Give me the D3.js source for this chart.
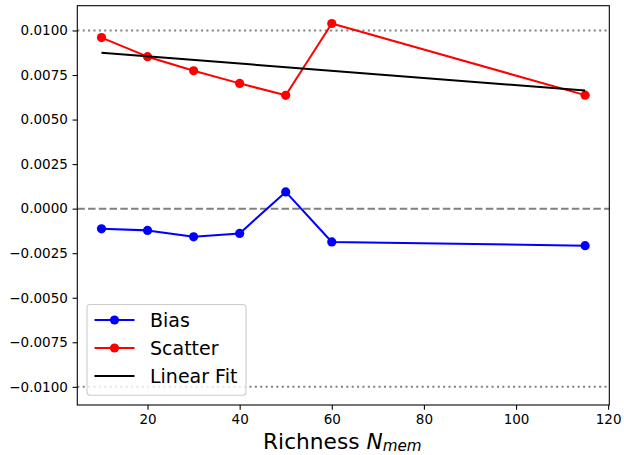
<!DOCTYPE html>
<html>
<head>
<meta charset="utf-8">
<script src="https://cdn.jsdelivr.net/npm/d3@7"></script>
<style>
  html, body { margin: 0; padding: 0; background: #fff; }
  svg { display: block; font-family: "DejaVu Sans", sans-serif; }
</style>
</head>
<body>
<svg id="chart" width="624" height="455"></svg>
<script>
// Richness bins and measured bias / scatter per bin
const richness = [10, 20, 30, 40, 50, 60, 115];
const bias = [-0.00113, -0.00122, -0.00158, -0.00139, 0.00094, -0.00187, -0.00208];
const scatter = [0.00960, 0.00853, 0.00774, 0.00703, 0.00636, 0.01039, 0.00637];
// Straight-line fit to the scatter (end points)
const fitX = [10, 115];
const fitY = [0.00875, 0.00663];
// Reference levels
const zeroLevel = 0;
const limitLevels = [0.01, -0.01];
// Axis ticks
const xTicks = [20, 40, 60, 80, 100, 120];
const yTicks = [0.01, 0.0075, 0.005, 0.0025, 0, -0.0025, -0.005, -0.0075, -0.01];

const svg = d3.select("#chart");
const plot = { left: 77.3, right: 609.3, top: 5.7, bottom: 405 };

const x = d3.scaleLinear().domain([4.75, 120.25]).range([plot.left, plot.right]);
const y = d3.scaleLinear().domain([-0.01102, 0.01139]).range([plot.bottom, plot.top]);

const fmtY = v => d3.format(".4f")(v).replace("-", "\u2212");

// Horizontal reference lines
svg.append("g").selectAll("line.limit").data(limitLevels).join("line")
  .attr("x1", plot.left).attr("x2", plot.right)
  .attr("y1", d => y(d)).attr("y2", d => y(d))
  .attr("stroke", "#808080").attr("stroke-width", 2.03)
  .attr("stroke-dasharray", "2.03,3.35");
svg.append("line")
  .attr("x1", plot.left).attr("x2", plot.right)
  .attr("y1", y(zeroLevel)).attr("y2", y(zeroLevel))
  .attr("stroke", "#808080").attr("stroke-width", 2.03)
  .attr("stroke-dasharray", "7.5,3.25");

const line = d3.line().x(d => x(d[0])).y(d => y(d[1]));

function drawSeries(values, color) {
  const pts = richness.map((r, i) => [r, values[i]]);
  svg.append("path").datum(pts)
    .attr("d", line).attr("fill", "none")
    .attr("stroke", color).attr("stroke-width", 2.03)
    .attr("stroke-linejoin", "round");
  svg.append("g").selectAll("circle").data(pts).join("circle")
    .attr("cx", d => x(d[0])).attr("cy", d => y(d[1]))
    .attr("r", 4.6).attr("fill", color);
}
drawSeries(bias, "#0000ff");
drawSeries(scatter, "#ff0000");

// Linear fit
svg.append("path").datum(fitX.map((v, i) => [v, fitY[i]]))
  .attr("d", line).attr("fill", "none")
  .attr("stroke", "#000").attr("stroke-width", 2.03);

// Axes
const xAxis = d3.axisBottom(x).tickValues(xTicks).tickSize(4.74).tickPadding(4.74);
const yAxis = d3.axisLeft(y).tickValues(yTicks).tickFormat(fmtY).tickSize(4.74).tickPadding(4.74);

const gx = svg.append("g").attr("transform", `translate(0,${plot.bottom})`).call(xAxis);
const gy = svg.append("g").attr("transform", `translate(${plot.left},0)`).call(yAxis);
[gx, gy].forEach(g => {
  g.select(".domain").remove();
  g.selectAll(".tick line").attr("stroke", "#000").attr("stroke-width", 1.08);
  g.selectAll(".tick text").attr("fill", "#000")
    .style("font-family", "DejaVu Sans").style("font-size", "13.5px");
});

// Frame
svg.append("rect")
  .attr("x", plot.left).attr("y", plot.top)
  .attr("width", plot.right - plot.left).attr("height", plot.bottom - plot.top)
  .attr("fill", "none").attr("stroke", "#000").attr("stroke-width", 1.08);

// X label
const xl = svg.append("text")
  .attr("x", (plot.left + plot.right) / 2 - 1).attr("y", 448.5)
  .attr("text-anchor", "middle")
  .style("font-size", "21.7px").attr("fill", "#000");
xl.append("tspan").text("Richness ");
xl.append("tspan").text("N").style("font-style", "italic");
xl.append("tspan").text("mem").style("font-style", "italic")
  .style("font-size", "15.2px").attr("dy", 2.5);

// Legend
const legendItems = [
  { label: "Bias", color: "#0000ff", marker: true },
  { label: "Scatter", color: "#ff0000", marker: true },
  { label: "Linear Fit", color: "#000000", marker: false }
];
const lg = svg.append("g");
lg.append("rect")
  .attr("x", 87).attr("y", 304.5).attr("width", 159).attr("height", 90.8)
  .attr("rx", 3).attr("ry", 3)
  .attr("fill", "#fff").attr("fill-opacity", 0.8)
  .attr("stroke", "#cccccc").attr("stroke-width", 1.08);
const rows = lg.selectAll("g.row").data(legendItems).join("g")
  .attr("transform", (d, i) => `translate(0,${320 + i * 28})`);
rows.append("line")
  .attr("x1", 94.5).attr("x2", 134.5).attr("y1", 0).attr("y2", 0)
  .attr("stroke", d => d.color).attr("stroke-width", 2.03);
rows.filter(d => d.marker).append("circle")
  .attr("cx", 114.5).attr("cy", 0).attr("r", 4.6).attr("fill", d => d.color);
rows.append("text")
  .attr("x", 150).attr("y", 6.8)
  .style("font-size", "19px").attr("fill", "#000")
  .text(d => d.label);
</script>
</body>
</html>
